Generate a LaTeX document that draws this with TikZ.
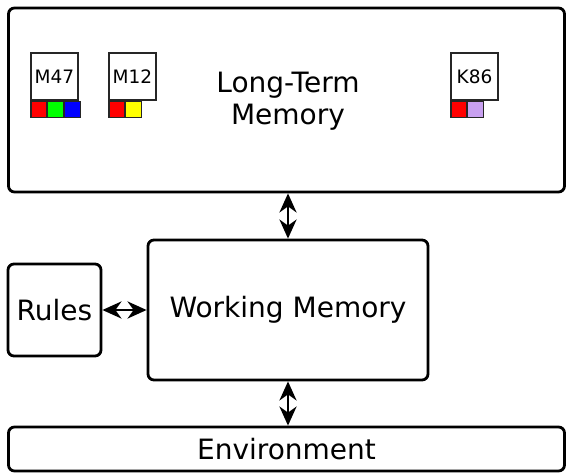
\documentclass[tikz,border=0pt]{standalone}
\usepackage{fontspec}
\setmainfont{DejaVu Sans}
\usetikzlibrary{arrows.meta,positioning}
\tikzset{
  bigbox/.style={draw, line width=2.8pt, rounded corners=6pt, inner sep=0pt},
  membox/.style={draw=black!85, line width=1.1pt, minimum width=47pt, minimum height=47pt, inner sep=0pt, font=\fontsize{18.5}{20}\selectfont, fill=white},
  chip/.style={draw=black!85, line width=1.1pt, minimum width=15.67pt, minimum height=16pt, inner sep=0pt},
  biarrow/.style={line width=2.8pt, {Stealth[length=19pt,width=17pt,inset=6pt]}-{Stealth[length=19pt,width=17pt,inset=6pt]}},
  bigfont/.style={font=\fontsize{28}{32}\selectfont}
}
\definecolor{chipred}{RGB}{255,0,0}
\definecolor{chipgreen}{RGB}{0,255,0}
\definecolor{chipblue}{RGB}{0,0,255}
\definecolor{chipyellow}{RGB}{255,255,0}
\definecolor{chiplilac}{RGB}{200,160,240}
\begin{document}
\begin{tikzpicture}[x=1pt,y=1pt]
\useasboundingbox (0,0) rectangle (566,-474);
% big boxes
\node[bigbox, minimum width=556pt, minimum height=184pt] (ltm) at (286.5,-100) {};
\node[bigfont, align=center] (ltmlabel) at (288,-101) {Long-Term\\Memory};
\node[bigbox, minimum width=280pt, minimum height=140pt, bigfont] (wm) at (288,-310) {Working Memory};
\node[bigbox, minimum width=93pt, minimum height=92pt, bigfont] (rules) at (54.5,-310) {Rules};
\node[bigbox, minimum width=556pt, minimum height=44pt, bigfont] (env) at (286.5,-449) {Environment};
% memory chunks
\node[membox] (m47) at (54.5,-76.5) {M47};
\node[chip, fill=chipred, anchor=north west] (m47a) at (m47.south west) {};
\node[chip, fill=chipgreen, right=0pt of m47a] (m47b) {};
\node[chip, fill=chipblue, right=0pt of m47b] (m47c) {};
\node[membox] (m12) at (132.5,-76.5) {M12};
\node[chip, fill=chipred, anchor=north west] (m12a) at (m12.south west) {};
\node[chip, fill=chipyellow, right=0pt of m12a] (m12b) {};
\node[membox] (k86) at (474.5,-76.5) {K86};
\node[chip, fill=chipred, anchor=north west] (k86a) at (k86.south west) {};
\node[chip, fill=chiplilac, right=0pt of k86a] (k86b) {};
% connectors
\draw[biarrow] (ltm.south -| wm.north) -- (wm.north);
\draw[biarrow] (wm.south) -- (env.north -| wm.south);
\draw[biarrow] (rules.east) -- (wm.west);
\end{tikzpicture}
\end{document}
